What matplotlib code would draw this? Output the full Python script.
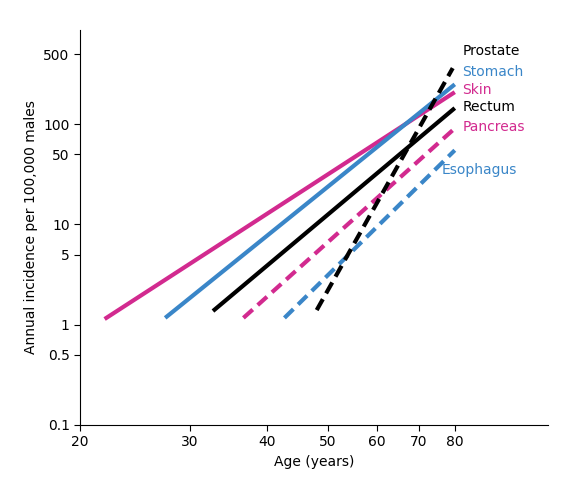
import matplotlib
matplotlib.use("Agg")
import matplotlib.pyplot as plt
from matplotlib.ticker import FixedLocator, NullLocator

# cancer incidence lines: (age start, age end), (incidence start, incidence end)
names = ["Skin", "Stomach", "Rectum", "Pancreas", "Esophagus", "Prostate"]
ages = [(21.9, 80), (27.4, 80), (32.7, 80), (36.6, 80), (42.6, 80), (48.0, 79.4)]
rates = [(1.14, 209), (1.17, 250), (1.37, 145), (1.17, 91), (1.17, 55), (1.4, 363)]

xticks = [20, 30, 40, 50, 60, 70, 80]
yticks = [0.1, 0.5, 1, 5, 10, 50, 100, 500]

magenta = "#d22a8f"
blue = "#3a86c8"
colors = [magenta, blue, "black", magenta, blue, "black"]
styles = ["-", "-", "-", "--", "--", "--"]

fig = plt.figure(figsize=(5.68, 4.93), dpi=100)
ax = fig.add_axes([0.141, 0.138, 0.824, 0.801])

for a, r, c, s in zip(ages, rates, colors, styles):
    ax.plot(a, r, color=c, linestyle=s, linewidth=3, solid_capstyle="butt", dashes=(3, 1.6) if s == "--" else ())

ax.set_xscale("log")
ax.set_yscale("log")
ax.set_xlim(20, 113)
ax.set_ylim(0.1, 870)
ax.xaxis.set_major_locator(FixedLocator(xticks))
ax.xaxis.set_minor_locator(NullLocator())
ax.set_xticklabels([str(t) for t in xticks])
ax.yaxis.set_major_locator(FixedLocator(yticks))
ax.yaxis.set_minor_locator(NullLocator())
ax.set_yticklabels([str(t) for t in yticks])
ax.spines["top"].set_visible(False)
ax.spines["right"].set_visible(False)
ax.tick_params(labelsize=10, length=4)
ax.set_xlabel("Age (years)", fontsize=10)
ax.set_ylabel("Annual incidence per 100,000 males", fontsize=10)

# labels on the right
label_pos = {"Prostate": (82.3, 540), "Stomach": (82.3, 330), "Skin": (82.3, 222),
             "Rectum": (82.3, 147), "Pancreas": (82.3, 93), "Esophagus": (76.3, 35)}
for n, c in zip(names, colors):
    x, y = label_pos[n]
    ax.text(x, y, n, color=c, fontsize=10, va="center", ha="left")

fig.savefig("out.png", dpi=100)
